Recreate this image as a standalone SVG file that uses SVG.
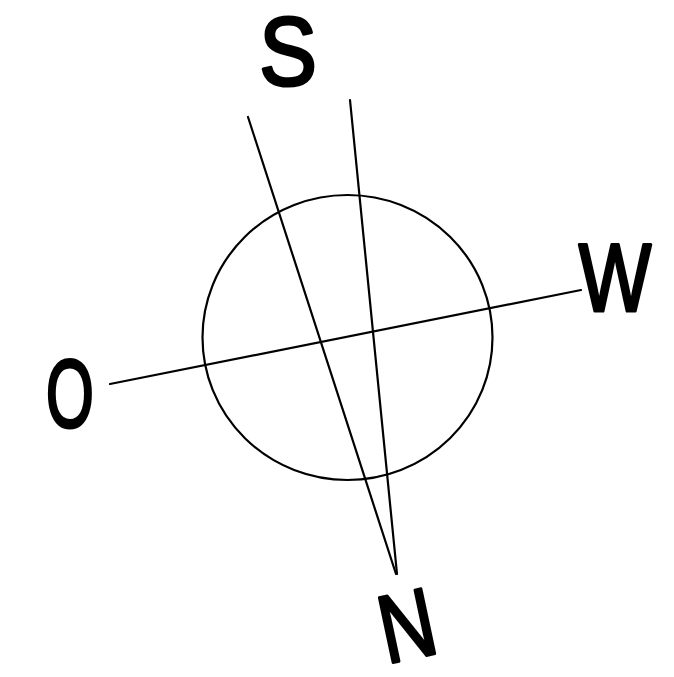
<svg xmlns="http://www.w3.org/2000/svg" width="674" height="677" viewBox="0 0 674 677">
<style>
.ln{stroke:#000;stroke-width:2.2;fill:none;stroke-linecap:round}
.lbl{font-family:"Liberation Sans",Arial,sans-serif;font-size:96px;fill:#000;stroke:#000;stroke-width:3.2;stroke-linejoin:round;text-anchor:middle}
</style>
<rect width="674" height="677" fill="#fff"/>
<g id="connectors">
<line class="ln" x1="248" y1="117" x2="396" y2="574"/>
<line class="ln" x1="350" y1="100" x2="397" y2="574"/>
<line class="ln" x1="110" y1="384" x2="581" y2="290"/>
</g>
<g id="circle"><ellipse class="ln" cx="347.5" cy="337.5" rx="145" ry="142.5"/></g>
<g id="S"><text class="lbl" transform="translate(288,85) scale(0.9,1)">S</text></g>
<g id="W"><text class="lbl" transform="translate(615,311) scale(0.8,1)">W</text></g>
<g id="O"><text class="lbl" transform="translate(70,427) scale(0.64,1)">O</text></g>
<g id="N"><text class="lbl" transform="translate(414,658) rotate(-12) scale(0.8,1)">N</text></g>
</svg>
